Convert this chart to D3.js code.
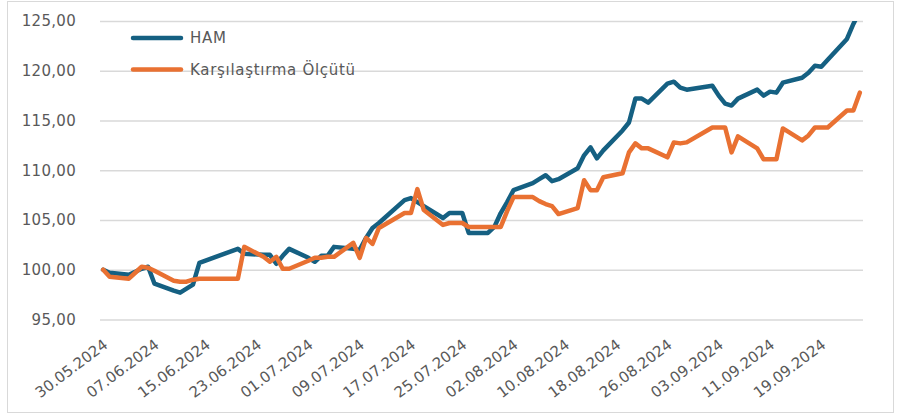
<!DOCTYPE html>
<html>
<head>
<meta charset="utf-8">
<script src="https://cdn.jsdelivr.net/npm/d3@7"></script>
<style>
  body { margin: 0; background: #fff; }
  #chart text { font-family: "DejaVu Sans", sans-serif; fill: #595959; }
</style>
</head>
<body>
<div id="chart"></div>
<script>
// data (trading days)
var dates = [
  "30.05.2024", "31.05.2024",
  "03.06.2024", "04.06.2024", "05.06.2024", "06.06.2024", "07.06.2024",
  "10.06.2024", "11.06.2024", "12.06.2024", "13.06.2024", "14.06.2024",
  "20.06.2024", "21.06.2024",
  "24.06.2024", "25.06.2024", "26.06.2024", "27.06.2024", "28.06.2024",
  "01.07.2024", "02.07.2024", "03.07.2024", "04.07.2024", "05.07.2024",
  "08.07.2024", "09.07.2024", "10.07.2024", "11.07.2024", "12.07.2024",
  "16.07.2024", "17.07.2024", "18.07.2024", "19.07.2024",
  "22.07.2024", "23.07.2024", "24.07.2024", "25.07.2024", "26.07.2024",
  "29.07.2024", "30.07.2024", "31.07.2024", "01.08.2024", "02.08.2024",
  "05.08.2024", "06.08.2024", "07.08.2024", "08.08.2024", "09.08.2024",
  "12.08.2024", "13.08.2024", "14.08.2024", "15.08.2024", "16.08.2024",
  "19.08.2024", "20.08.2024", "21.08.2024", "22.08.2024", "23.08.2024",
  "26.08.2024", "27.08.2024", "28.08.2024", "29.08.2024",
  "02.09.2024", "03.09.2024", "04.09.2024", "05.09.2024", "06.09.2024",
  "09.09.2024", "10.09.2024", "11.09.2024", "12.09.2024", "13.09.2024",
  "16.09.2024", "17.09.2024", "18.09.2024", "19.09.2024", "20.09.2024",
  "23.09.2024", "24.09.2024", "25.09.2024"
];

var ham = [
  100.0, 99.7,
  99.5, 99.8, 100.1, 100.3, 98.6,
  97.9, 97.7, 98.1, 98.5, 100.7,
  102.1, 101.6,
  101.5, 101.5, 100.6, 101.4, 102.1,
  101.2, 100.8, 101.4, 101.4, 102.3,
  102.1, 102.0, 103.2, 104.2, 104.7,
  107.0, 107.2, 106.8, 106.4,
  105.2, 105.7, 105.7, 105.7, 103.7,
  103.7, 104.3, 105.7, 106.8, 108.0,
  108.7, 109.1, 109.5, 108.9, 109.1,
  110.2, 111.5, 112.3, 111.2, 112.0,
  114.0, 114.8, 117.2, 117.2, 116.8,
  118.7, 118.9, 118.3, 118.1,
  118.5, 117.5, 116.7, 116.5, 117.2,
  118.1, 117.5, 117.9, 117.8, 118.8,
  119.3, 119.8, 120.5, 120.4, 121.1,
  123.2, 124.7, 126.0
];

var benchmark = [
  100.0, 99.3,
  99.1, 99.7, 100.3, 100.2, 99.9,
  98.9, 98.8, 98.8, 99.0, 99.1,
  99.1, 102.3,
  101.3, 100.8, 101.3, 100.1, 100.1,
  100.9, 101.2, 101.2, 101.3, 101.3,
  102.7, 101.2, 103.2, 102.6, 104.2,
  105.7, 105.7, 108.1, 106.0,
  104.5, 104.7, 104.7, 104.7, 104.3,
  104.3, 104.3, 104.3, 105.9, 107.3,
  107.3, 106.9, 106.6, 106.4, 105.6,
  106.2, 109.0, 108.0, 108.0, 109.3,
  109.7, 111.8, 112.7, 112.2, 112.2,
  111.3, 112.8, 112.7, 112.8,
  114.3, 114.3, 114.3, 111.8, 113.4,
  112.2, 111.1, 111.1, 111.1, 114.2,
  113.0, 113.5, 114.3, 114.3, 114.3,
  116.0, 116.0, 117.8
];

var seriesNames = ["HAM", "Karşılaştırma Ölçütü"];
var seriesColors = ["#156082", "#E97132"];

var xTickLabels = [
  "30.05.2024", "07.06.2024", "15.06.2024", "23.06.2024", "01.07.2024",
  "09.07.2024", "17.07.2024", "25.07.2024", "02.08.2024", "10.08.2024",
  "18.08.2024", "26.08.2024", "03.09.2024", "11.09.2024", "19.09.2024"
];
var yTicks = [95, 100, 105, 110, 115, 120, 125];

// svg + chart area
var svgWidth = 903;
var svgHeight = 416;

var chartMargin = {
    top: 21,
    right: 40,
    left: 100,
    bottom: 96.5};

var chartWidth = svgWidth - chartMargin.left - chartMargin.right;
var chartHeight = svgHeight - chartMargin.top - chartMargin.bottom;

var svg = d3.select("#chart")
    .append("svg")
    .attr("height", svgHeight)
    .attr("width", svgWidth);

// outer frame
svg.append("rect")
    .attr("x", 7.5)
    .attr("y", 1.5)
    .attr("width", 886)
    .attr("height", 411)
    .attr("fill", "none")
    .attr("stroke", "#D9D9D9")
    .attr("stroke-width", 1);

var chartGroup = svg.append("g")
    .attr("transform", `translate(${chartMargin.left}, ${chartMargin.top})`);

var parseDate = d3.timeParse("%d.%m.%Y");
var formatDate = d3.timeFormat("%d.%m.%Y");

var data = dates.map(function(d, i) {
    return {date: parseDate(d), ham: ham[i], bench: benchmark[i]};
});

// scales (half a day padding each side, like a date axis)
var xScale = d3.scaleTime()
    .domain([d3.timeHour.offset(data[0].date, -12), d3.timeHour.offset(data[data.length - 1].date, 12)])
    .range([0, chartWidth]);

var yScale = d3.scaleLinear()
    .domain([95, 125])
    .range([chartHeight, 0]);

// gridlines + y labels
var leftAxis = d3.axisLeft(yScale)
    .tickValues(yTicks)
    .tickSize(-chartWidth)
    .tickPadding(24)
    .tickFormat(d => d3.format(".2f")(d).replace(".", ","));

var yAxisG = chartGroup.append("g").call(leftAxis);
yAxisG.select(".domain").remove();
yAxisG.selectAll("line").attr("stroke", "#D9D9D9").attr("stroke-width", 1.3);
yAxisG.selectAll("text").style("font-size", "15px").style("letter-spacing", "0.3px");

// x labels
var bottomAxis = d3.axisBottom(xScale)
    .tickValues(xTickLabels.map(parseDate))
    .tickSize(0)
    .tickFormat(formatDate);

var xAxisG = chartGroup.append("g")
    .attr("transform", `translate(0, ${chartHeight})`)
    .call(bottomAxis);
xAxisG.select(".domain").remove();
xAxisG.selectAll("text")
    .attr("x", 0)
    .attr("y", 0)
    .attr("dy", "0.35em")
    .attr("transform", "translate(2, 23) rotate(-37)")
    .style("text-anchor", "end")
    .style("font-size", "15px");

// lines, clipped to plot area
chartGroup.append("clipPath")
    .attr("id", "plotClip")
    .append("rect")
    .attr("x", -10)
    .attr("y", 0)
    .attr("width", chartWidth + 20)
    .attr("height", chartHeight);

var keys = ["ham", "bench"];
keys.forEach(function(k, i) {
    var line = d3.line()
        .x(d => xScale(d.date))
        .y(d => yScale(d[k]));
    chartGroup.append("path")
        .datum(data)
        .attr("clip-path", "url(#plotClip)")
        .attr("d", line)
        .attr("fill", "none")
        .attr("stroke", seriesColors[i])
        .attr("stroke-width", 4.5)
        .attr("stroke-linejoin", "round")
        .attr("stroke-linecap", "round");
});

// legend
var legend = svg.append("g");
seriesNames.forEach(function(name, i) {
    var ly = 38 + i * 31.5;
    legend.append("line")
        .attr("x1", 133)
        .attr("x2", 181)
        .attr("y1", ly)
        .attr("y2", ly)
        .attr("stroke", seriesColors[i])
        .attr("stroke-width", 4.5)
        .attr("stroke-linecap", "round");
    legend.append("text")
        .attr("x", 190)
        .attr("y", ly)
        .attr("dy", "0.35em")
        .style("font-size", "15px")
        .style("letter-spacing", "0.7px")
        .text(name);
});
</script>
</body>
</html>
